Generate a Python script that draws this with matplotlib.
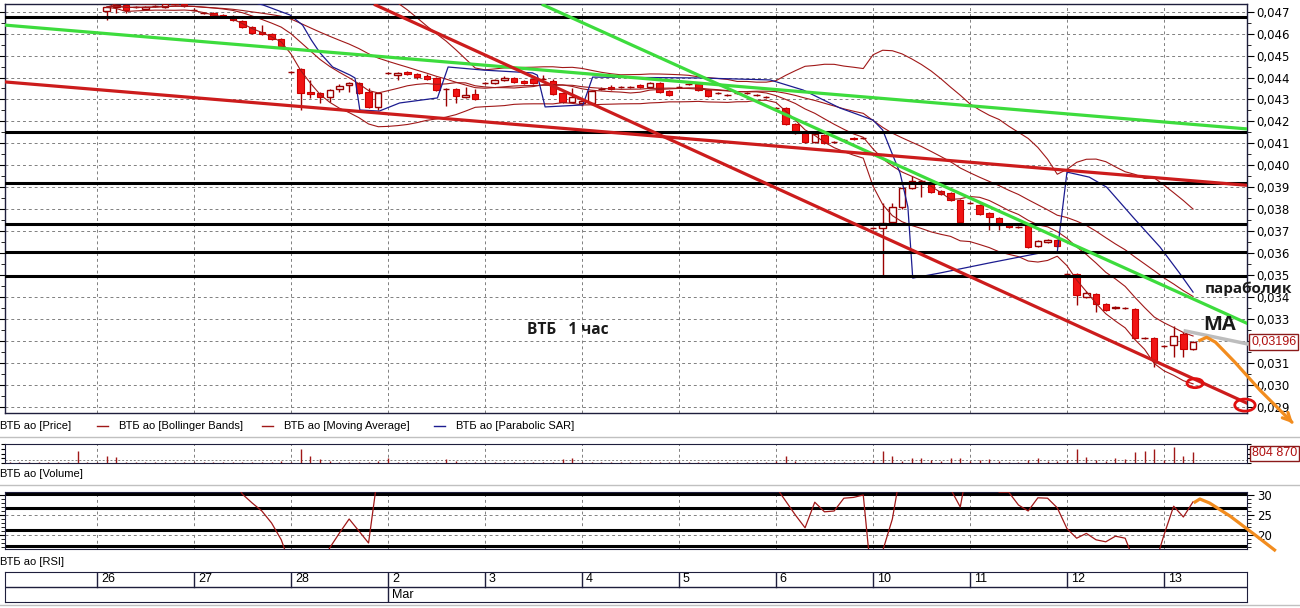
import numpy as np
import pandas as pd
import matplotlib
matplotlib.use('Agg')
import matplotlib.pyplot as plt
from matplotlib.patches import Ellipse
from matplotlib.lines import Line2D
from matplotlib.ticker import MultipleLocator, FuncFormatter
import matplotlib.transforms as mtrans

plt.rcParams['font.family'] = ['Liberation Sans', 'DejaVu Sans']

# hourly bars of VTB, 26 Feb .. 13 Mar, prices in RUB * 1e-3
opens = [47.05, 47.21, 47.31, 47.21, 47.12, 47.26, 47.21, 47.35, 47.35, 47.10,
         46.94, 46.94, 46.85, 46.80, 46.58, 46.30, 46.08, 45.98, 45.76, 44.25,
         44.39, 43.34, 43.29, 43.11, 43.48, 43.66, 43.75, 43.34, 42.66, 44.21,
         44.11, 44.25, 44.16, 44.07, 43.98, 43.48, 43.48, 43.11, 43.25, 43.75,
         43.75, 43.89, 43.98, 43.84, 43.93, 43.93, 43.84, 43.29, 42.88, 42.84,
         42.84, 43.48, 43.57, 43.57, 43.57, 43.66, 43.57, 43.75, 43.39, 43.57,
         43.70, 43.70, 43.43, 43.29, 43.20, 43.29, 43.29, 43.20, 43.11, 42.61,
         42.61, 41.88, 41.52, 41.06, 41.38, 41.06, 41.15, 41.24, 41.24, 37.14,
         37.14, 37.41, 38.10, 38.96, 39.28, 39.19, 38.82, 38.73, 38.41, 38.28,
         38.19, 37.82, 37.59, 37.32, 37.18, 37.28, 36.32, 36.50, 36.59, 35.04,
         35.04, 34.00, 34.13, 33.67, 33.49, 33.49, 33.45, 32.13, 32.13, 31.76,
         31.81, 32.31, 31.62]
highs = [47.26, 47.33, 47.35, 47.26, 47.26, 47.30, 47.40, 47.45, 47.40, 47.17,
         46.99, 46.99, 46.90, 46.85, 46.62, 46.35, 46.39, 46.03, 45.80, 44.30,
         44.43, 43.89, 43.34, 43.48, 43.70, 43.80, 43.80, 43.52, 43.34, 44.25,
         44.25, 44.30, 44.21, 44.16, 44.02, 43.52, 43.52, 43.57, 43.48, 43.80,
         43.93, 44.07, 44.02, 43.89, 43.98, 44.11, 43.93, 43.34, 43.52, 43.02,
         43.45, 43.57, 43.66, 43.61, 43.61, 43.70, 43.80, 43.80, 43.43, 43.61,
         43.75, 43.75, 43.48, 43.34, 43.25, 43.34, 43.34, 43.25, 43.16, 42.66,
         42.66, 41.93, 41.56, 41.47, 41.42, 41.10, 41.20, 41.29, 41.29, 37.18,
         38.28, 38.30, 38.96, 39.50, 39.33, 39.24, 38.87, 38.78, 38.46, 38.32,
         38.23, 37.87, 37.64, 37.37, 37.23, 37.32, 36.59, 36.64, 36.64, 35.09,
         35.09, 34.27, 34.18, 33.72, 33.58, 33.54, 33.49, 32.17, 32.17, 31.81,
         32.67, 32.40, 32.01]
lows = [46.62, 46.94, 46.94, 47.17, 47.08, 47.21, 47.17, 47.30, 47.21, 47.05,
        46.90, 46.76, 46.76, 46.58, 46.26, 45.98, 45.94, 45.71, 45.40, 44.21,
        42.52, 43.07, 42.84, 42.88, 43.34, 43.34, 43.25, 42.61, 42.52, 44.16,
        43.89, 44.11, 43.93, 43.89, 43.39, 42.70, 42.84, 43.07, 42.98, 43.70,
        43.70, 43.84, 43.75, 43.70, 43.70, 43.89, 43.20, 42.84, 42.84, 42.70,
        42.80, 43.43, 43.43, 43.52, 43.52, 43.52, 43.52, 43.29, 43.16, 43.52,
        43.66, 43.39, 43.11, 43.25, 43.16, 43.25, 43.25, 43.16, 43.07, 42.57,
        41.84, 41.42, 41.01, 41.01, 40.97, 41.01, 41.10, 41.15, 41.20, 37.10,
        34.91, 37.37, 38.00, 38.92, 38.55, 38.73, 38.64, 38.37, 37.37, 38.23,
        37.73, 37.05, 37.05, 37.14, 37.14, 36.23, 36.27, 36.46, 36.27, 35.00,
        33.63, 33.95, 33.31, 33.36, 33.45, 33.45, 32.08, 32.08, 30.80, 31.72,
        31.26, 31.26, 31.58]
closes = [47.20, 47.31, 47.08, 47.21, 47.21, 47.26, 47.35, 47.40, 47.26, 47.10,
          46.94, 46.80, 46.80, 46.62, 46.30, 46.03, 45.98, 45.76, 45.44, 44.25,
          43.29, 43.25, 43.11, 43.43, 43.61, 43.75, 43.29, 42.66, 43.29, 44.21,
          44.21, 44.16, 44.02, 43.93, 43.43, 43.48, 43.16, 43.20, 43.02, 43.75,
          43.89, 43.98, 43.80, 43.75, 43.75, 43.93, 43.25, 42.88, 43.11, 42.93,
          43.39, 43.48, 43.48, 43.57, 43.57, 43.57, 43.75, 43.34, 43.20, 43.57,
          43.70, 43.43, 43.16, 43.29, 43.20, 43.29, 43.29, 43.20, 43.11, 42.61,
          41.88, 41.47, 41.06, 41.42, 41.01, 41.06, 41.15, 41.20, 41.24, 37.14,
          37.37, 38.10, 38.96, 39.28, 39.28, 38.78, 38.68, 38.41, 37.41, 38.28,
          37.78, 37.64, 37.28, 37.18, 37.18, 36.27, 36.55, 36.59, 36.32, 35.04,
          34.09, 34.18, 33.67, 33.40, 33.54, 33.49, 32.13, 32.13, 31.12, 31.76,
          32.22, 31.62, 31.96]

# volume, thousand shares, from the last bars of 25 Feb on
volume = [60, 40, 80, 50, 60, 40, 70, 850, 50, 60,
          530, 420, 90, 60, 80, 50, 70, 40, 60, 90,
          60, 50, 80, 70, 60, 90, 100, 80, 120, 90,
          1050, 520, 300, 120, 90, 110, 80, 100, 150, 350,
          90, 70, 60, 80, 100, 330, 120, 80, 60, 70,
          50, 60, 90, 70, 60, 80, 110, 330, 380, 90,
          60, 50, 40, 60, 50, 70, 90, 80, 60, 50,
          70, 60, 40, 50, 60, 50, 40, 60, 70, 120,
          480, 130, 110, 90, 80, 60, 100, 90, 110, 150,
          850, 480, 150, 400, 350, 200, 180, 350, 380, 150,
          250, 300, 120, 100, 90, 250, 400, 150, 130, 200,
          1000, 450, 200, 150, 350, 300, 800, 850, 1050, 250,
          1200, 500, 804.87]

# RSI per bar (values outside the 16.5..30.75 window are off the panel)
rsi = [55, 58, 52, 56, 57, 58, 60, 61, 57, 50,
       45, 40, 38, 34, 30.2, 28, 26, 23, 18.8, 12,
       7, 8, 12, 16.8, 20.5, 24, 21, 18, 36, 45,
       48, 46, 44, 42, 38, 36, 34, 35, 33, 40,
       43, 45, 44, 43, 42, 44, 38, 34, 36, 38,
       42, 44, 43, 44, 44, 45, 46, 42, 39, 43,
       44, 41, 38, 37, 38, 38, 37, 36, 35, 32,
       28.5, 25, 21.8, 28.2, 25.8, 26, 29.2, 29.4, 30.0, 5,
       16, 24, 38, 45, 46, 40, 37, 31.5, 27, 40,
       36, 34, 30.7, 30.7, 27.5, 26.0, 29.3, 29.2, 26.8, 21.6,
       19.2, 20.4, 18.8, 18.3, 19.7, 19.2, 13, 10, 12, 20,
       27.2, 24.5, 28.3]

# parabolic SAR as drawn (bar position, price * 1e-3)
sar_pos = [16.3, 17.1, 19.9, 21.2, 22.1, 23.0, 24.3, 26.1, 26.6, 27.1, 29.1, 31.2,
           35.1, 36.2, 39.8, 44.9, 45.4, 46.2, 50.1, 51.1, 62.1, 69.4, 72.8, 76.6,
           78.6, 80.0, 81.0, 81.7, 82.8, 83.6, 84.1, 86.9, 92.0, 97.2, 99.0, 100.0,
           102.3, 104.1, 106.8, 109.6, 111.6, 113.0]
sar_val = [47.40, 47.31, 46.85, 46.39, 45.71, 45.12, 44.48, 44.11, 43.98, 42.52, 42.47, 42.84,
           43.07, 44.48, 44.34, 44.21, 44.11, 42.66, 42.75, 44.02, 43.98, 43.89, 43.43, 42.61,
           42.29, 42.06, 41.61, 40.83, 39.64, 38.10, 34.86, 35.09, 35.55, 36.00, 36.05, 39.69,
           39.46, 39.00, 37.64, 36.27, 35.09, 34.22]

days = ['26', '27', '28', '2', '3', '4', '5', '6', '10', '11', '12', '13']
bars_per_day = 10

# hand drawn levels and trend lines
levels = [46.77, 41.53, 39.21, 37.32, 36.06, 34.95]
green_lines = [((-9.5, 46.39), (118.5, 41.66)), ((46.0, 47.31), (118.5, 32.81))]
red_lines = [((-9.5, 43.80), (118.5, 39.09)), ((28.7, 47.31), (118.6, 29.15))]
orange_main = [(113.7, 32.02), (114.4, 32.16), (115.3, 31.94), (117.3, 31.03), (119.9, 29.75), (123.0, 28.38), (123.5, 28.15)]
orange_rsi = [(113.2, 28.25), (113.7, 29.0), (114.7, 28.0), (116.8, 24.75), (119.4, 20.0), (121.4, 16.25)]
gray_ma = [(112.2, 32.45), (118.7, 31.85)]

k = 1e-3
o = np.array(opens) * k
h = np.array(highs) * k
l = np.array(lows) * k
c = np.array(closes) * k
x = np.arange(1, len(c) + 1)
vol_x = np.arange(-9, -9 + len(volume))
day_x = np.arange(len(days)) * bars_per_day

cs = pd.Series(c)
mid = cs.rolling(20, min_periods=1).mean()
sd = cs.rolling(20, min_periods=1).std(ddof=0)
ma = cs.rolling(9, min_periods=1).mean()

W, H = 1300, 608
fig = plt.figure(figsize=(13, 6.08), dpi=100)
fig.patch.set_facecolor('white')


def fx(px):
    return px / W


def fy(py):
    return 1 - py / H


frame = '#1e1e3c'
grid_kw = dict(color='#808080', lw=0.7, ls=(0, (3, 3)), zorder=0)
xlim = (-9.48, 118.56)
tick_font = ['DejaVu Sans']

ax = fig.add_axes([fx(5), fy(413), fx(1247 - 5), (413 - 4) / H])
ax.set_xlim(*xlim)
ax.set_ylim(0.02871, 0.047351)
for v in np.arange(0.029, 0.0475, 0.001):
    ax.axhline(v, **grid_kw)
for d in day_x:
    ax.axvline(d, **grid_kw)

# candles
wick = '#9a0000'
ax.vlines(x, l, h, color=wick, lw=1, zorder=3)
dn = c < o
up = ~dn
ax.bar(x[dn], (o - c)[dn], bottom=c[dn], width=0.66, color='#f01414', edgecolor='#cc0000', lw=0.8, zorder=4)
ax.bar(x[up], (c - o)[up], bottom=o[up], width=0.66, color='white', edgecolor=wick, lw=1, zorder=4)

ind = '#a01818'
ax.plot(x, mid + 2 * sd, color=ind, lw=0.8, zorder=5)
ax.plot(x, mid, color=ind, lw=0.8, zorder=5)
ax.plot(x, mid - 2 * sd, color=ind, lw=0.8, zorder=5)
ax.plot(x, ma, color=ind, lw=0.8, zorder=5)
ax.plot(sar_pos, np.array(sar_val) * k, color='#1c1c90', lw=0.9, zorder=5)

for lv in levels:
    ax.axhline(lv * k, color='black', lw=2.2, zorder=6)
for (a, b) in green_lines:
    ax.plot([a[0], b[0]], [a[1] * k, b[1] * k], color='#3ddc3d', lw=2.3, zorder=7)
for (a, b) in red_lines:
    ax.plot([a[0], b[0]], [a[1] * k, b[1] * k], color='#cc1c1c', lw=2.3, zorder=7)

gx, gy = zip(*gray_ma)
ax.plot(gx, np.array(gy) * k, color='#bdbdbd', lw=2.5, zorder=8, clip_on=False)
ox, oy = zip(*orange_main)
ax.plot(ox[:-1], np.array(oy[:-1]) * k, color='#f28c1e', lw=2.3, zorder=8, clip_on=False)
ax.annotate('', xy=(ox[-1], oy[-1] * k), xytext=(ox[-2], oy[-2] * k),
            arrowprops=dict(arrowstyle='->', color='#f28c1e', lw=2.3, mutation_scale=14),
            annotation_clip=False, zorder=8)

ax.add_patch(Ellipse((113.2, 30.07 * k), 1.65, 0.00041, fill=False, ec='#e01010', lw=2, zorder=9, clip_on=False))
ax.add_patch(Ellipse((118.35, 29.07 * k), 2.1, 0.00055, fill=False, ec='#e01010', lw=2, zorder=9, clip_on=False))

bold = ['Open Sans', 'DejaVu Sans']
ax.text(114.2, 34.38 * k, 'параболик', family=bold, fontweight='bold', fontsize=11,
        color='#1a1a1a', va='center', ha='left', zorder=10, clip_on=False)
ax.text(114.0, 32.72 * k, 'MA', family=bold, fontweight='bold', fontsize=14.5,
        color='#1a1a1a', va='center', ha='left', zorder=10, clip_on=False)
ax.text(44.3, 32.48 * k, 'ВТБ   1 час', family=bold, fontweight='bold', fontsize=11.2,
        color='#1a1a1a', va='center', ha='left', zorder=10)

ax.yaxis.tick_right()
ax.yaxis.set_major_locator(MultipleLocator(0.001))
ax.yaxis.set_minor_locator(MultipleLocator(0.0005))
ax.yaxis.set_major_formatter(FuncFormatter(lambda v, p: f'{v:.3f}'.replace('.', ',')))
ax.tick_params(axis='y', which='both', left=True, right=True, direction='out', labelsize=8.5,
               colors='black', pad=2)
ax.tick_params(axis='y', which='major', length=5)
ax.tick_params(axis='y', which='minor', length=3)
for t in ax.get_yticklabels():
    t.set_family(tick_font)
ax.set_xticks([])
for s in ax.spines.values():
    s.set_color(frame)
    s.set_linewidth(1)

tr = mtrans.blended_transform_factory(ax.transAxes, ax.transData)
ax.text(1.0035, c[-1], f'{c[-1]:.5f}'.replace('.', ','), transform=tr, fontsize=9, color='#b01010',
        va='center', ha='left', zorder=11,
        bbox=dict(boxstyle='square,pad=0.15', fc='white', ec='#8b1a1a', lw=1))

# volume panel
av = fig.add_axes([fx(5), fy(463), fx(1247 - 5), 19 / H])
av.set_xlim(*xlim)
av.set_ylim(0, 1400)
av.axhline(200, color='#808080', lw=0.7, ls=(0, (2, 2)), zorder=0)
for d in day_x:
    av.axvline(d, **grid_kw)
av.vlines(vol_x, 0, volume, color='#a01818', lw=1, zorder=3)
av.set_xticks([])
av.yaxis.tick_right()
av.set_yticks([0, 350, 700, 1050, 1400])
av.set_yticklabels([])
av.tick_params(axis='y', left=True, right=True, length=3, direction='out')
for s in av.spines.values():
    s.set_color(frame)
av.text(1.004, 0.5, '804 870', transform=av.transAxes, fontsize=9, color='#b01010', va='center',
        ha='left', bbox=dict(boxstyle='square,pad=0.15', fc='white', ec='#8b1a1a', lw=1))

# RSI panel
ar = fig.add_axes([fx(5), fy(549), fx(1247 - 5), 57 / H])
ar.set_xlim(*xlim)
ar.set_ylim(16.5, 30.75)
for v in (20, 25):
    ar.axhline(v, **grid_kw)
for d in day_x:
    ar.axvline(d, **grid_kw)
for lv in (30.2, 26.8, 21.2, 17.3):
    ar.axhline(lv, color='black', lw=2.2, zorder=2)
ar.plot(x, rsi, color='#a01818', lw=0.9, zorder=4)
rx, ry = zip(*orange_rsi)
ar.plot(rx, ry, color='#f28c1e', lw=2.3, zorder=6, clip_on=False)
ar.set_xticks([])
ar.yaxis.tick_right()
ar.yaxis.set_major_locator(MultipleLocator(5))
ar.yaxis.set_minor_locator(MultipleLocator(1))
ar.tick_params(axis='y', which='both', left=True, right=True, direction='out', labelsize=8.5, pad=2)
ar.tick_params(axis='y', which='major', length=5)
ar.tick_params(axis='y', which='minor', length=3)
for t in ar.get_yticklabels():
    t.set_family(tick_font)
for s in ar.spines.values():
    s.set_color(frame)

# date scale
ad = fig.add_axes([fx(5), fy(602), fx(1247 - 5), 30 / H])
ad.set_xlim(*xlim)
ad.set_ylim(0, 2)
ad.axhline(1, color=frame, lw=1)
for i, (d, lab) in enumerate(zip(day_x, days)):
    ad.plot([d, d], [0 if lab == '2' else 1, 2], color=frame, lw=1)
    ad.text(d + 0.4, 1.5, lab, fontsize=9, va='center', ha='left')
ad.text(day_x[days.index('2')] + 0.4, 0.5, 'Mar', fontsize=9, va='center', ha='left')
ad.set_xticks([])
ad.set_yticks([])
for s in ad.spines.values():
    s.set_color(frame)

# legend and panel captions
ly = fy(426)
fs_leg = 8
fig.text(0, ly, 'ВТБ ао [Price]', fontsize=fs_leg, va='center')
for x0, col, lab in [(97, '#a01818', 'ВТБ ао [Bollinger Bands]'),
                     (262, '#a01818', 'ВТБ ао [Moving Average]'),
                     (434, '#1c1c90', 'ВТБ ао [Parabolic SAR]')]:
    fig.add_artist(Line2D([fx(x0), fx(x0 + 11)], [ly, ly], color=col, lw=1))
    fig.text(fx(x0 + 22), ly, lab, fontsize=fs_leg, va='center')
fig.text(0, fy(474), 'ВТБ ао [Volume]', fontsize=fs_leg, va='center')
fig.text(0, fy(562), 'ВТБ ао [RSI]', fontsize=fs_leg, va='center')
for py in (437, 485, 605):
    fig.add_artist(Line2D([0, 1], [fy(py), fy(py)], color='#c0c0c0', lw=1))

fig.savefig('out.png', dpi=100)
